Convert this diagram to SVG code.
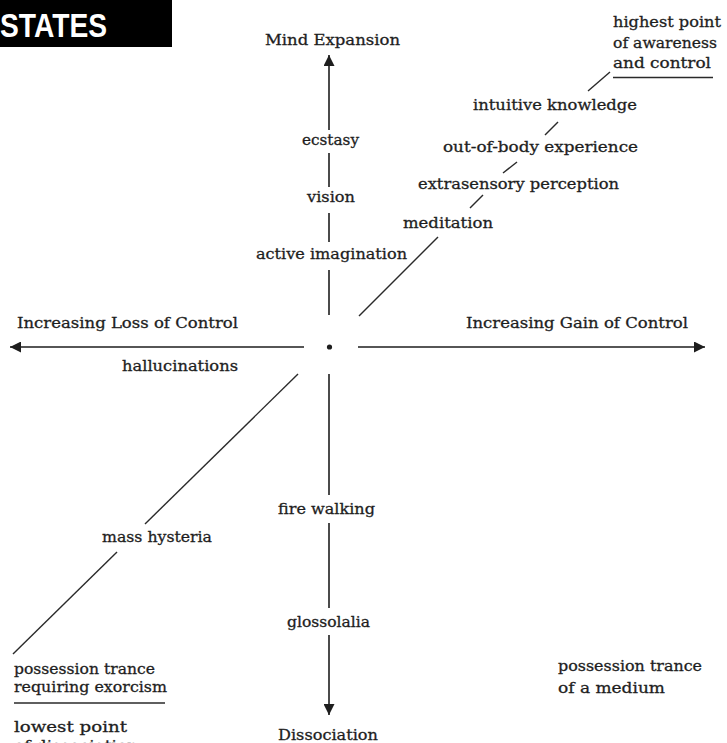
<svg xmlns="http://www.w3.org/2000/svg" width="727" height="743" viewBox="0 0 727 743">
<style>
text { font-family: "DejaVu Serif", "Liberation Serif", serif; font-size: 15.5px; fill: #1e1e1e; stroke: #1e1e1e; stroke-width: 0.3; }
.ax { stroke: #1e1e1e; stroke-width: 1.6; fill: none; }
.dg { stroke: #2a2a2a; stroke-width: 1.4; fill: none; }
.hd { font-family: "Liberation Sans", Arial, sans-serif; font-weight: bold; font-size: 34px; fill: #ffffff; stroke: none; }
</style>
<defs>
<marker id="ah" viewBox="0 0 10 10" refX="10" refY="5" markerUnits="userSpaceOnUse" markerWidth="15" markerHeight="11" orient="auto">
<path d="M0,0 L10,5 L0,10 z" fill="#1e1e1e"/>
</marker>
</defs>
<rect width="727" height="743" fill="#ffffff"/>
<g id="header">
<rect x="0" y="0" width="172" height="47" fill="#000000"/>
<text class="hd" x="0" y="36.5" textLength="107" lengthAdjust="spacingAndGlyphs">STATES</text>
</g>
<g id="connectors">
<line class="ax" x1="329" y1="130" x2="329" y2="55" marker-end="url(#ah)"/>
<line class="ax" x1="329" y1="153" x2="329" y2="187"/>
<line class="ax" x1="329" y1="213" x2="329" y2="242"/>
<line class="ax" x1="329" y1="270" x2="329" y2="315"/>
<line class="ax" x1="329" y1="374" x2="329" y2="495"/>
<line class="ax" x1="329" y1="523" x2="329" y2="608"/>
<line class="ax" x1="329" y1="635" x2="329" y2="715" marker-end="url(#ah)"/>
<line class="ax" x1="304" y1="347" x2="10" y2="347" marker-end="url(#ah)"/>
<line class="ax" x1="358" y1="347" x2="705" y2="347" marker-end="url(#ah)"/>
<circle cx="329.5" cy="347" r="2.6" fill="#1e1e1e"/>
<line class="dg" x1="359" y1="316" x2="438" y2="237"/>
<line class="dg" x1="470" y1="208" x2="483" y2="195"/>
<line class="dg" x1="503" y1="173" x2="517" y2="162"/>
<line class="dg" x1="545" y1="135" x2="558" y2="122"/>
<line class="dg" x1="588" y1="91" x2="610" y2="72"/>
<line class="dg" x1="298" y1="374" x2="145" y2="524"/>
<line class="dg" x1="117" y1="552" x2="13" y2="654"/>
<line class="dg" x1="613" y1="77.5" x2="713" y2="77.5"/>
<line class="dg" x1="14" y1="703" x2="165" y2="703"/>
</g>
<g id="mind-expansion"><text x="265" y="45" textLength="135" lengthAdjust="spacingAndGlyphs">Mind Expansion</text></g>
<g id="ecstasy"><text x="302" y="145" textLength="57" lengthAdjust="spacingAndGlyphs">ecstasy</text></g>
<g id="vision"><text x="307" y="202" textLength="48" lengthAdjust="spacingAndGlyphs">vision</text></g>
<g id="active-imagination"><text x="256" y="259" textLength="151" lengthAdjust="spacingAndGlyphs">active imagination</text></g>
<g id="highest-point">
<text x="613" y="27" textLength="108" lengthAdjust="spacingAndGlyphs">highest point</text>
<text x="613" y="48" textLength="104" lengthAdjust="spacingAndGlyphs">of awareness</text>
<text x="613" y="68" textLength="98" lengthAdjust="spacingAndGlyphs">and control</text>
</g>
<g id="intuitive-knowledge"><text x="473" y="110" textLength="164" lengthAdjust="spacingAndGlyphs">intuitive knowledge</text></g>
<g id="out-of-body"><text x="443" y="152" textLength="195" lengthAdjust="spacingAndGlyphs">out-of-body experience</text></g>
<g id="extrasensory"><text x="418" y="189" textLength="201" lengthAdjust="spacingAndGlyphs">extrasensory perception</text></g>
<g id="meditation"><text x="403" y="228" textLength="90" lengthAdjust="spacingAndGlyphs">meditation</text></g>
<g id="loss-of-control"><text x="17" y="328" textLength="221" lengthAdjust="spacingAndGlyphs">Increasing Loss of Control</text></g>
<g id="gain-of-control"><text x="466" y="328" textLength="222" lengthAdjust="spacingAndGlyphs">Increasing Gain of Control</text></g>
<g id="hallucinations"><text x="122" y="371" textLength="116" lengthAdjust="spacingAndGlyphs">hallucinations</text></g>
<g id="fire-walking"><text x="278" y="514" textLength="97" lengthAdjust="spacingAndGlyphs">fire walking</text></g>
<g id="mass-hysteria"><text x="102" y="542" textLength="110" lengthAdjust="spacingAndGlyphs">mass hysteria</text></g>
<g id="glossolalia"><text x="287" y="627" textLength="83" lengthAdjust="spacingAndGlyphs">glossolalia</text></g>
<g id="possession-exorcism">
<text x="14" y="674" textLength="141" lengthAdjust="spacingAndGlyphs">possession trance</text>
<text x="14" y="692" textLength="153" lengthAdjust="spacingAndGlyphs">requiring exorcism</text>
</g>
<g id="lowest-point">
<text x="14" y="732" textLength="113" lengthAdjust="spacingAndGlyphs">lowest point</text>
<text x="14" y="751" textLength="124" lengthAdjust="spacingAndGlyphs">of dissociation</text>
</g>
<g id="dissociation"><text x="278" y="740" textLength="100" lengthAdjust="spacingAndGlyphs">Dissociation</text></g>
<g id="possession-medium">
<text x="558" y="671" textLength="144" lengthAdjust="spacingAndGlyphs">possession trance</text>
<text x="558" y="693" textLength="107" lengthAdjust="spacingAndGlyphs">of a medium</text>
</g>
</svg>
